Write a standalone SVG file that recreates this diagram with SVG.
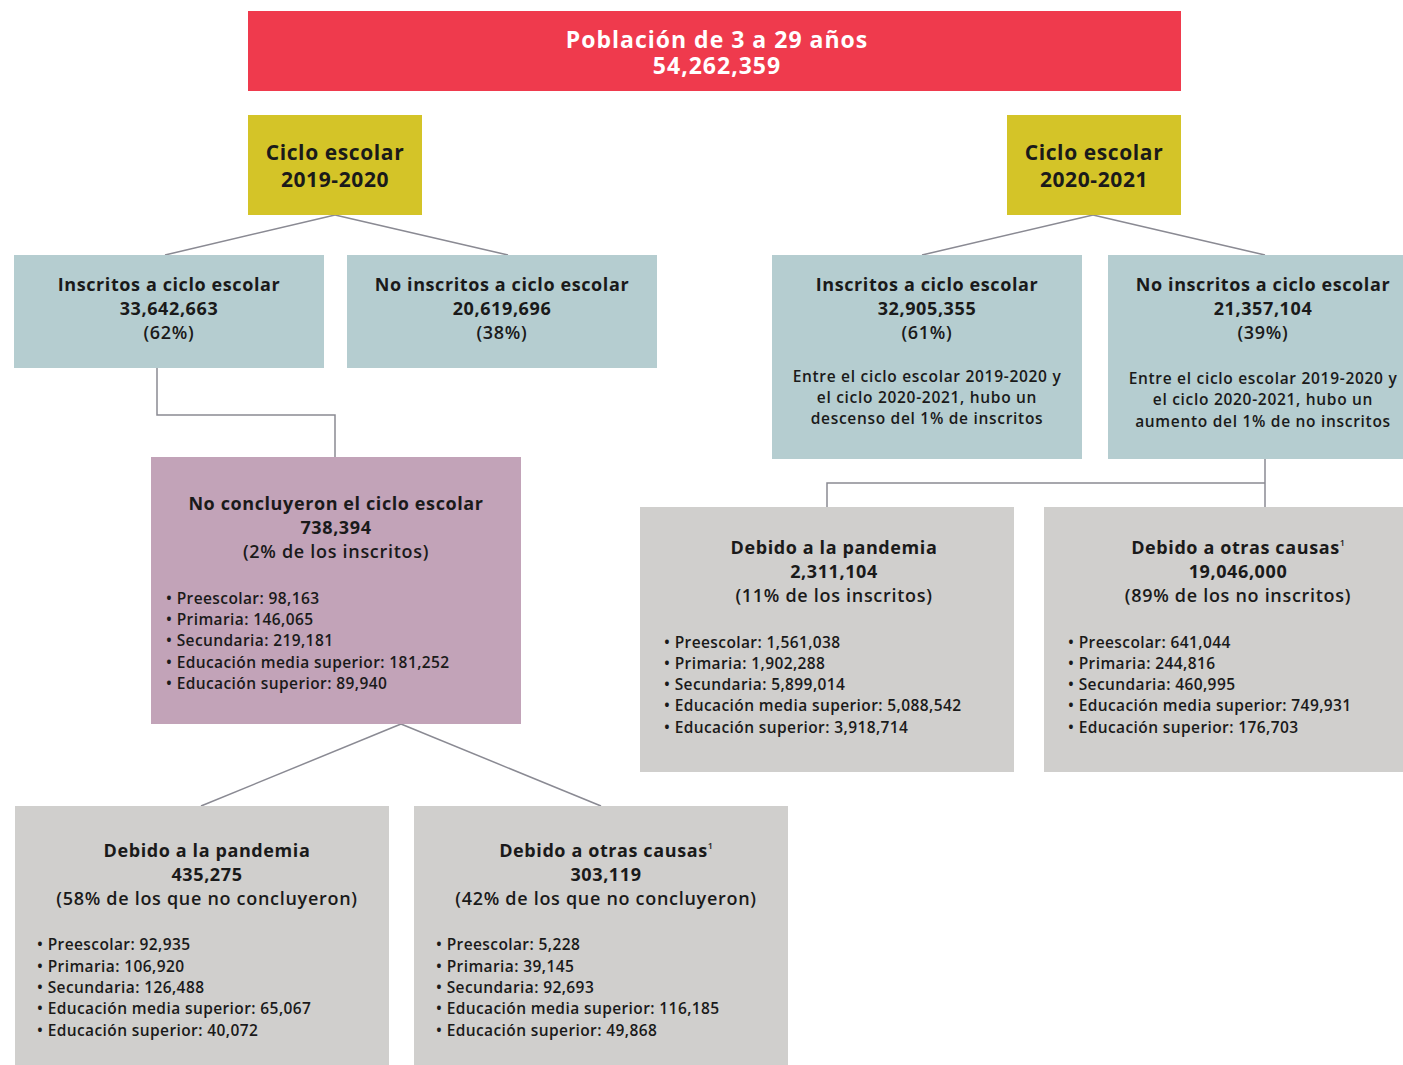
<svg xmlns="http://www.w3.org/2000/svg" width="1403" height="1065" viewBox="0 0 1403 1065">
<style>
text{font-family:"Open Sans","Noto Sans","Liberation Sans",sans-serif;fill:#1a1a1a}
.h{font-size:18px;font-weight:700;text-anchor:middle;letter-spacing:0.6px}
.m{font-size:18px;font-weight:600;text-anchor:middle;letter-spacing:0.7px}
.n{font-size:15.5px;font-weight:600;text-anchor:middle;letter-spacing:0.7px}
.b{font-size:15.5px;font-weight:600;letter-spacing:0.4px}
.t{font-size:23px;font-weight:700;text-anchor:middle;fill:#fff;letter-spacing:1px}
.c{font-size:21px;font-weight:700;text-anchor:middle;letter-spacing:0.6px}
.sup{font-size:9px;font-weight:600;letter-spacing:0}
.blue{fill:#b5cdd0}.grey{fill:#d0cfcd}.mauve{fill:#c2a3b8}.yellow{fill:#d4c428}.red{fill:#ef3a4d}
.conn line,.conn polyline{stroke:#8a8a93;stroke-width:1.5;fill:none}
</style>
<g class="conn" id="connectors">
<line x1="335" y1="215" x2="165" y2="255"/>
<line x1="335" y1="215" x2="508" y2="255"/>
<line x1="1093" y1="215" x2="922" y2="255"/>
<line x1="1093" y1="215" x2="1265" y2="255"/>
<polyline points="157,368 157,415 335,415 335,457"/>
<line x1="1265" y1="459" x2="1265" y2="507"/>
<polyline points="827,507 827,483 1265,483"/>
<line x1="401" y1="724" x2="201" y2="806"/>
<line x1="401" y1="724" x2="601" y2="806"/>
</g>
<g id="poblacion">
<rect class="red" x="248" y="11" width="933" height="80"/>
<text class="t" x="717" y="48">Población de 3 a 29 años<tspan x="717" dy="26">54,262,359</tspan></text>
</g>
<g id="ciclo1">
<rect class="yellow" x="248" y="115" width="174" height="100"/>
<text class="c" x="335" y="160">Ciclo escolar</text>
<text class="c" x="335" y="187">2019-2020</text>
</g>
<g id="ciclo2">
<rect class="yellow" x="1007" y="115" width="174" height="100"/>
<text class="c" x="1094" y="160">Ciclo escolar</text>
<text class="c" x="1094" y="187">2020-2021</text>
</g>
<g id="inscritos1">
<rect class="blue" x="14" y="255" width="310" height="113"/>
<text class="h" x="169" y="291">Inscritos a ciclo escolar</text>
<text class="h" x="169" y="315">33,642,663</text>
<text class="m" x="169" y="339">(62%)</text>
</g>
<g id="noinscritos1">
<rect class="blue" x="347" y="255" width="310" height="113"/>
<text class="h" x="502" y="291">No inscritos a ciclo escolar</text>
<text class="h" x="502" y="315">20,619,696</text>
<text class="m" x="502" y="339">(38%)</text>
</g>
<g id="inscritos2">
<rect class="blue" x="772" y="255" width="310" height="204"/>
<text class="h" x="927" y="291">Inscritos a ciclo escolar</text>
<text class="h" x="927" y="315">32,905,355</text>
<text class="m" x="927" y="339">(61%)</text>
<text class="n" x="927" y="382">Entre el ciclo escolar 2019-2020 y</text>
<text class="n" x="927" y="403">el ciclo 2020-2021, hubo un</text>
<text class="n" x="927" y="424">descenso del 1% de inscritos</text>
</g>
<g id="noinscritos2">
<rect class="blue" x="1108" y="255" width="295" height="204"/>
<text class="h" x="1263" y="291">No inscritos a ciclo escolar</text>
<text class="h" x="1263" y="315">21,357,104</text>
<text class="m" x="1263" y="339">(39%)</text>
<text class="n" x="1263" y="384">Entre el ciclo escolar 2019-2020 y</text>
<text class="n" x="1263" y="405">el ciclo 2020-2021, hubo un</text>
<text class="n" x="1263" y="427">aumento del 1% de no inscritos</text>
</g>
<g id="noconcluyeron">
<rect class="mauve" x="151" y="457" width="370" height="267"/>
<text class="h" x="336" y="510">No concluyeron el ciclo escolar</text>
<text class="h" x="336" y="534">738,394</text>
<text class="m" x="336" y="558">(2% de los inscritos)</text>
<text class="b" x="166" y="604">• Preescolar: 98,163</text>
<text class="b" x="166" y="625">• Primaria: 146,065</text>
<text class="b" x="166" y="646">• Secundaria: 219,181</text>
<text class="b" x="166" y="668">• Educación media superior: 181,252</text>
<text class="b" x="166" y="689">• Educación superior: 89,940</text>
</g>
<g id="pandemia2">
<rect class="grey" x="640" y="507" width="374" height="265"/>
<text class="h" x="834" y="554">Debido a la pandemia</text>
<text class="h" x="834" y="578">2,311,104</text>
<text class="m" x="834" y="602">(11% de los inscritos)</text>
<text class="b" x="664" y="648">• Preescolar: 1,561,038</text>
<text class="b" x="664" y="669">• Primaria: 1,902,288</text>
<text class="b" x="664" y="690">• Secundaria: 5,899,014</text>
<text class="b" x="664" y="711">• Educación media superior: 5,088,542</text>
<text class="b" x="664" y="733">• Educación superior: 3,918,714</text>
</g>
<g id="otras2">
<rect class="grey" x="1044" y="507" width="359" height="265"/>
<text class="h" x="1238" y="554">Debido a otras causas<tspan class="sup" dy="-8">1</tspan></text>
<text class="h" x="1238" y="578">19,046,000</text>
<text class="m" x="1238" y="602">(89% de los no inscritos)</text>
<text class="b" x="1068" y="648">• Preescolar: 641,044</text>
<text class="b" x="1068" y="669">• Primaria: 244,816</text>
<text class="b" x="1068" y="690">• Secundaria: 460,995</text>
<text class="b" x="1068" y="711">• Educación media superior: 749,931</text>
<text class="b" x="1068" y="733">• Educación superior: 176,703</text>
</g>
<g id="pandemia1">
<rect class="grey" x="15" y="806" width="374" height="259"/>
<text class="h" x="207" y="857">Debido a la pandemia</text>
<text class="h" x="207" y="881">435,275</text>
<text class="m" x="207" y="905">(58% de los que no concluyeron)</text>
<text class="b" x="37" y="950">• Preescolar: 92,935</text>
<text class="b" x="37" y="972">• Primaria: 106,920</text>
<text class="b" x="37" y="993">• Secundaria: 126,488</text>
<text class="b" x="37" y="1014">• Educación media superior: 65,067</text>
<text class="b" x="37" y="1036">• Educación superior: 40,072</text>
</g>
<g id="otras1">
<rect class="grey" x="414" y="806" width="374" height="259"/>
<text class="h" x="606" y="857">Debido a otras causas<tspan class="sup" dy="-8">1</tspan></text>
<text class="h" x="606" y="881">303,119</text>
<text class="m" x="606" y="905">(42% de los que no concluyeron)</text>
<text class="b" x="436" y="950">• Preescolar: 5,228</text>
<text class="b" x="436" y="972">• Primaria: 39,145</text>
<text class="b" x="436" y="993">• Secundaria: 92,693</text>
<text class="b" x="436" y="1014">• Educación media superior: 116,185</text>
<text class="b" x="436" y="1036">• Educación superior: 49,868</text>
</g>
</svg>
